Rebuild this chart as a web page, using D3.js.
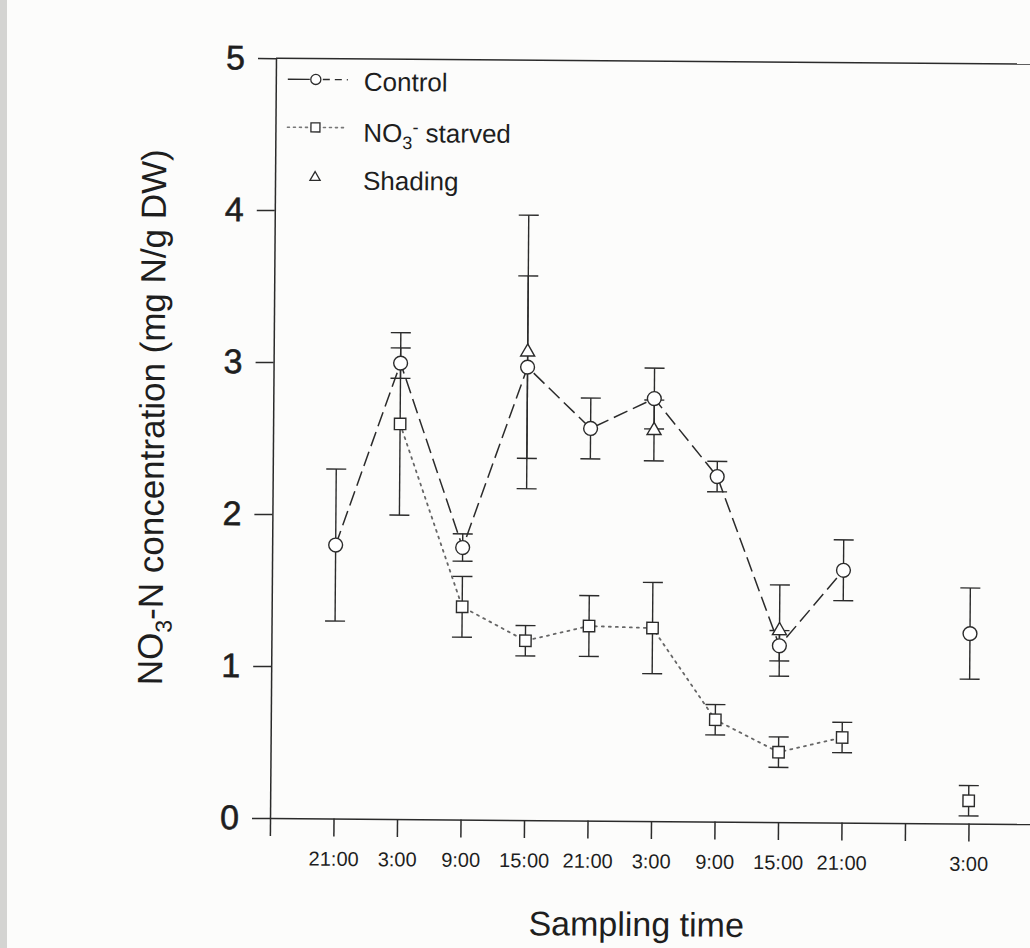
<!DOCTYPE html>
<html>
<head>
<meta charset="utf-8">
<script src="https://cdn.jsdelivr.net/npm/d3@7"></script>
<style>
  html, body { margin: 0; padding: 0; background: #fcfcfb; }
  svg { display: block; }
  text { font-family: "Liberation Sans", Arial, Helvetica, sans-serif; fill: #1e1e1e; }
</style>
</head>
<body>
<svg id="chart" width="1030" height="948"></svg>
<script>
// Sampling slots along the time axis (slot 10 has no sample)
const tickSlots = [0, 1, 2, 3, 4, 5, 6, 7, 8, 9, 10, 11];
const tickLabels = ["", "21:00", "3:00", "9:00", "15:00", "21:00", "3:00", "9:00", "15:00", "21:00", "", "3:00"];
const yTicks = [0, 1, 2, 3, 4, 5];

// Control
const controlSlots = [1, 2, 3, 4, 5, 6, 7, 8, 9, 11];
const controlValues = [1.80, 3.00, 1.79, 2.98, 2.58, 2.78, 2.27, 1.16, 1.66, 1.25];
const controlErrors = [0.50, 0.10, 0.09, 0.60, 0.20, 0.20, 0.10, 0.10, 0.20, 0.30];

// NO3- starved
const starvedSlots = [2, 3, 4, 5, 6, 7, 8, 9, 11];
const starvedValues = [2.60, 1.40, 1.18, 1.28, 1.27, 0.67, 0.46, 0.56, 0.15];
const starvedErrors = [0.60, 0.20, 0.10, 0.20, 0.30, 0.10, 0.10, 0.10, 0.10];

// Shading
const shadingSlots = [4, 6, 8];
const shadingValues = [3.08, 2.57, 1.26];
const shadingErrors = [0.90, 0.20, 0.30];

const ink = "#2b2b2b";
const svg = d3.select("#chart");

// faint scanner edge on the left
svg.append("rect").attr("x", 0).attr("y", 0).attr("width", 7).attr("height", 948).attr("fill", "#d4d4d2");

// whole figure sits at a very slight tilt
const g = svg.append("g").attr("transform", "rotate(0.45, 640, 440)");

const x = d3.scaleLinear().domain([0, 13]).range([273, 273 + 13 * 63.5]);
const y = d3.scaleLinear().domain([0, 5]).range([821, 61]);

// top frame line
g.append("line")
  .attr("x1", x(0)).attr("x2", x(13)).attr("y1", y(5)).attr("y2", y(5))
  .attr("stroke", ink).attr("stroke-width", 1.5);

// axes
const xAxis = g.append("g").attr("transform", `translate(0,${y(0)})`)
  .call(d3.axisBottom(x).tickValues(tickSlots).tickFormat(i => tickLabels[i])
    .tickSize(18).tickSizeOuter(0).tickPadding(15));
xAxis.selectAll("text").style("font-size", "20px").attr("fill", "#1e1e1e");

const yAxis = g.append("g").attr("transform", `translate(${x(0)},0)`)
  .call(d3.axisLeft(y).tickValues(yTicks).tickFormat(d3.format("d"))
    .tickSize(18).tickSizeOuter(0).tickPadding(13));
yAxis.selectAll("text").style("font-size", "34px").attr("fill", "#1e1e1e")
  .attr("stroke", "#1e1e1e").attr("stroke-width", 0.6);

[xAxis, yAxis].forEach(a => {
  a.selectAll("path, line").attr("stroke", ink).attr("stroke-width", 1.5);
});

// axis titles
g.append("text")
  .attr("x", 640).attr("y", 936)
  .attr("text-anchor", "middle")
  .style("font-size", "34px")
  .text("Sampling time");

const yTitle = g.append("text")
  .attr("transform", "translate(164,421) rotate(-90)")
  .attr("text-anchor", "middle")
  .style("font-size", "35px");
yTitle.append("tspan").text("NO");
yTitle.append("tspan").attr("dy", 9).style("font-size", "23px").text("3");
yTitle.append("tspan").attr("dy", -9).text("-N concentration (mg N/g DW)");

// build series records from the arrays
const series = (slots, values, errors) =>
  slots.map((s, i) => ({ slot: s, v: values[i], e: errors[i] }));

const control = series(controlSlots, controlValues, controlErrors);
const starved = series(starvedSlots, starvedValues, starvedErrors);
const shading = series(shadingSlots, shadingValues, shadingErrors);

// split into runs of consecutive slots so the line breaks over gaps
function runs(data) {
  const out = [];
  data.forEach((d, i) => {
    if (i === 0 || d.slot !== data[i - 1].slot + 1) out.push([]);
    out[out.length - 1].push(d);
  });
  return out.filter(r => r.length > 1);
}

// error bars
function errorBars(data) {
  const eb = g.append("g").attr("stroke", ink).attr("stroke-width", 1.4);
  data.forEach(d => {
    const cx = x(d.slot);
    eb.append("line").attr("x1", cx).attr("x2", cx).attr("y1", y(d.v + d.e)).attr("y2", y(d.v - d.e));
    [d.v + d.e, d.v - d.e].forEach(v => {
      eb.append("line").attr("x1", cx - 10).attr("x2", cx + 10).attr("y1", y(v)).attr("y2", y(v));
    });
  });
}
errorBars(starved);
errorBars(control);
errorBars(shading);

const line = d3.line().x(d => x(d.slot)).y(d => y(d.v));

// connecting lines
runs(starved).forEach(r => {
  g.append("path").attr("d", line(r)).attr("fill", "none")
    .attr("stroke", "#666").attr("stroke-width", 1.8)
    .attr("stroke-dasharray", "2,5").attr("stroke-linecap", "round");
});
runs(control).forEach(r => {
  g.append("path").attr("d", line(r)).attr("fill", "none")
    .attr("stroke", ink).attr("stroke-width", 1.5)
    .attr("stroke-dasharray", "15,6");
});

// markers
const sym = {
  circle: d3.symbol().type(d3.symbolCircle),
  square: d3.symbol().type(d3.symbolSquare),
  triangle: d3.symbol().type(d3.symbolTriangle)
};
function markers(data, shape, size) {
  g.append("g").selectAll("path").data(data).join("path")
    .attr("d", sym[shape].size(size)())
    .attr("transform", d => `translate(${x(d.slot)},${y(d.v)})`)
    .attr("fill", "#fff").attr("stroke", ink).attr("stroke-width", 1.4);
}
markers(starved, "square", 130);
markers(shading, "triangle", 85);
markers(control, "circle", 150);

// legend
const lg = g.append("g");
const legendRows = [
  { label: "Control", y: 82 },
  { label: "starved", y: 130 },
  { label: "Shading", y: 181 }
];
// Control: solid lead-in, circle, dashed tail
lg.append("line").attr("x1", 285).attr("x2", 307).attr("y1", 82).attr("y2", 82)
  .attr("stroke", ink).attr("stroke-width", 1.4);
lg.append("line").attr("x1", 320).attr("x2", 345).attr("y1", 82).attr("y2", 82)
  .attr("stroke", ink).attr("stroke-width", 1.4).attr("stroke-dasharray", "7,5");
lg.append("path").attr("d", sym.circle.size(80)()).attr("transform", "translate(313,82)")
  .attr("fill", "#fff").attr("stroke", ink).attr("stroke-width", 1.3);
// NO3- starved: dotted with square
lg.append("line").attr("x1", 285).attr("x2", 345).attr("y1", 130).attr("y2", 130)
  .attr("stroke", "#777").attr("stroke-width", 1.6).attr("stroke-dasharray", "2,4").attr("stroke-linecap", "round");
lg.append("path").attr("d", sym.square.size(81)()).attr("transform", "translate(313,130)")
  .attr("fill", "#fff").attr("stroke", ink).attr("stroke-width", 1.3);
// Shading: triangle only
lg.append("path").attr("d", sym.triangle.size(45)()).attr("transform", "translate(313,180)")
  .attr("fill", "#fff").attr("stroke", ink).attr("stroke-width", 1.3);

lg.append("text").attr("x", 361).attr("y", 93).style("font-size", "26px").text(legendRows[0].label);
const nt = lg.append("text").attr("x", 361).attr("y", 144).style("font-size", "26px");
nt.append("tspan").text("NO");
nt.append("tspan").attr("dy", 7).style("font-size", "18px").text("3");
nt.append("tspan").attr("dy", -16).style("font-size", "18px").text("-");
nt.append("tspan").attr("dy", 9).text(" " + legendRows[1].label);
lg.append("text").attr("x", 361).attr("y", 192).style("font-size", "26px").text(legendRows[2].label);
</script>
</body>
</html>
